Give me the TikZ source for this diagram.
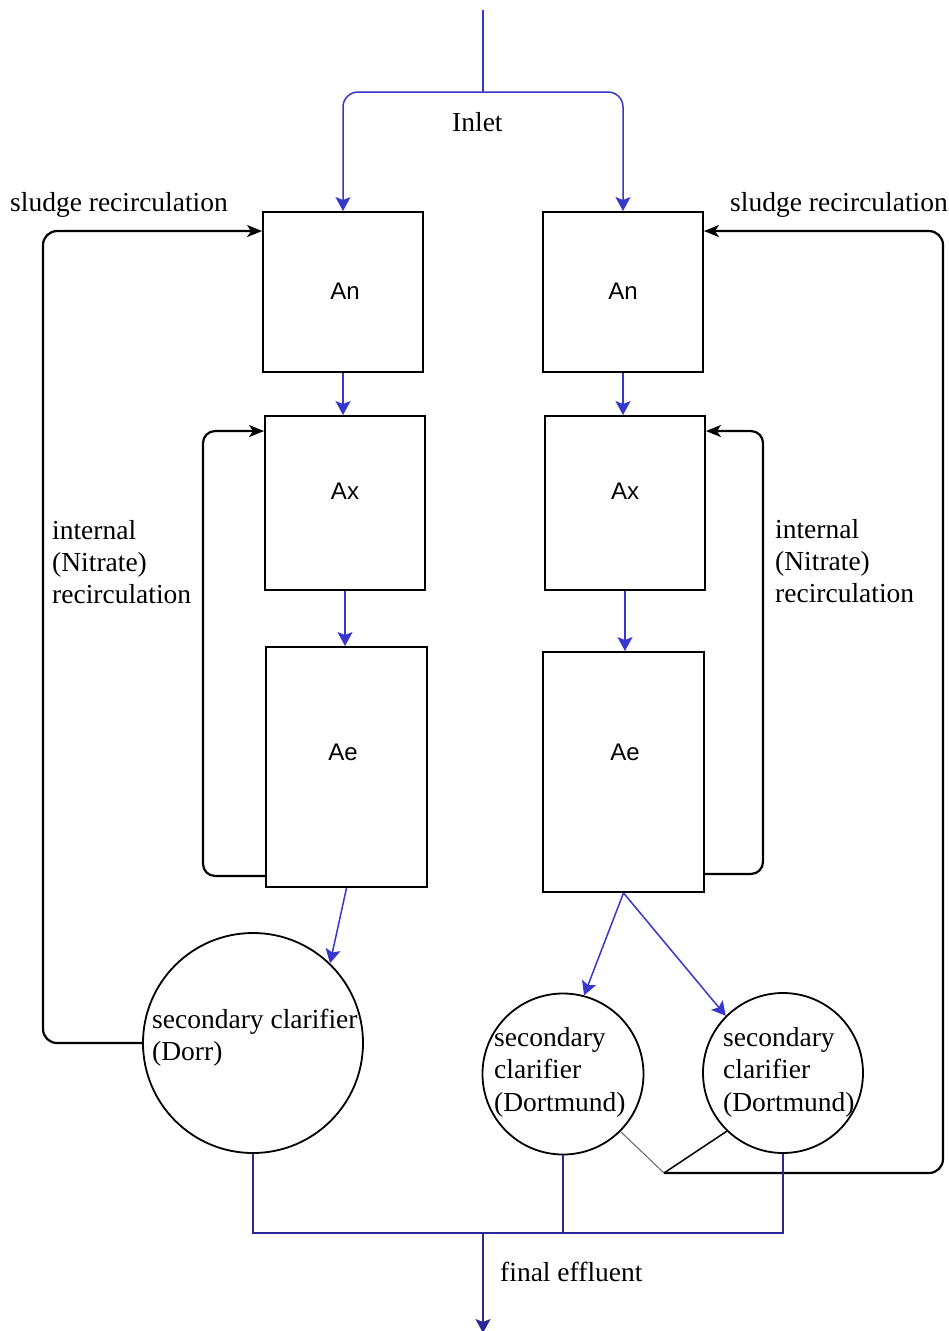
\documentclass[tikz,border=0pt]{standalone}
\usepackage{fontspec}
\setmainfont{Liberation Serif}
\newfontfamily\boxfont{Liberation Sans}
\usetikzlibrary{arrows.meta}
\definecolor{flow}{RGB}{55,55,205}
\definecolor{effl}{RGB}{40,40,150}
\definecolor{thinline}{RGB}{100,100,100}
\begin{document}
\begin{tikzpicture}[x=1pt,y=-1pt,
  tank/.style={draw, line width=1.9pt, inner sep=0pt, minimum width=160pt},
  clar/.style={draw, circle, line width=1.8pt, inner sep=0pt},
  lab/.style={font=\fontsize{27.5}{32}\selectfont, inner sep=0pt, anchor=base west},
  tlab/.style={font=\boxfont\fontsize{24}{28}\selectfont, inner sep=0pt, anchor=base},
  flowar/.style={draw=flow, line width=1.5pt, -{Stealth[length=14pt,width=15pt,inset=3pt]}},
  recar/.style={draw=black, line width=2.2pt, rounded corners=14pt, -{Stealth[length=15pt,width=12pt,inset=4pt]}},
  eff/.style={draw=effl, line width=1.5pt}]
\useasboundingbox (0,0) rectangle (949,1331);
\fill[white] (0,0) rectangle (949,1331);

% tanks
\node[tank, minimum height=160pt] (anL) at (343,292) {};
\node[tank, minimum height=160pt] (anR) at (623,292) {};
\node[tank, minimum height=174pt] (axL) at (345,503) {};
\node[tank, minimum height=174pt] (axR) at (625,503) {};
\node[tank, minimum width=161pt, minimum height=240pt] (aeL) at (346.5,767) {};
\node[tank, minimum width=161pt, minimum height=240pt] (aeR) at (623.5,772) {};

\node[tlab] (tAnL) at (345,299) {An};
\node[tlab] (tAnR) at (623,299) {An};
\node[tlab] (tAxL) at (345,499) {Ax};
\node[tlab] (tAxR) at (625,499) {Ax};
\node[tlab] (tAeL) at (343,760) {Ae};
\node[tlab] (tAeR) at (625,760) {Ae};

% clarifiers
\node[clar, minimum size=220pt] (clL) at (253,1043) {};
\node[clar, minimum size=161pt] (cl1) at (563,1074) {};
\node[clar, minimum size=160pt] (cl2) at (783,1073) {};

\node[lab] (cLa) at (152,1028) {secondary clarifier};
\node[lab] (cLb) at (152,1060) {(Dorr)};
\node[lab] (c1a) at (494,1046) {secondary};
\node[lab] (c1b) at (494,1078) {clarifier};
\node[lab] (c1c) at (494,1111) {(Dortmund)};
\node[lab] (c2a) at (723,1046) {secondary};
\node[lab] (c2b) at (723,1078) {clarifier};
\node[lab] (c2c) at (723,1111) {(Dortmund)};

% labels
\node[lab] (inlet) at (452,131) {Inlet};
\node[lab] (sludL) at (10,211) {sludge recirculation};
\node[lab] (sludR) at (730,211) {sludge recirculation};
\node[lab] (iL1) at (52,539) {internal};
\node[lab] (iL2) at (52,571) {(Nitrate)};
\node[lab] (iL3) at (52,603) {recirculation};
\node[lab] (iR1) at (775,538) {internal};
\node[lab] (iR2) at (775,570) {(Nitrate)};
\node[lab] (iR3) at (775,602) {recirculation};
\node[lab] (final) at (500,1281) {final effluent};

% coordinates
\coordinate (inTop) at (483,10);
\coordinate (inJ) at (483,92);
\coordinate (sLx) at (43,600);
\coordinate (sRx) at (943,600);
\coordinate (iLx) at (203,650);
\coordinate (iRx) at (763,650);
\coordinate (jn) at (664,1173);
\coordinate (ej) at (483,1233);
\coordinate (eo) at (483,1333);

% inlet
\draw[draw=flow, line width=1.5pt] (inTop) -- (inJ);
\draw[flowar, rounded corners=15pt] (inJ) -| (anL.north);
\draw[flowar, rounded corners=15pt] (inJ) -| (anR.north);

% flow between tanks
\draw[flowar] (anL.south) -- (anL.south |- axL.north);
\draw[flowar] (anR.south) -- (anR.south |- axR.north);
\draw[flowar] (axL.south) -- (axL.south |- aeL.north);
\draw[flowar] (axR.south) -- (axR.south |- aeR.north);
\draw[flowar] (aeL.south) -- (clL.46);
\draw[flowar] (aeR.south) -- (cl1.75);
\draw[flowar] (aeR.south) -- (cl2.135);

% internal recirculation
\draw[recar, rounded corners=12pt] ([yshift=12pt]aeL.south west) -| (iLx) |- ([yshift=-16pt]axL.north west);
\draw[recar, rounded corners=12pt] ([yshift=19pt]aeR.south east) -| (iRx) |- ([yshift=-16pt]axR.north east);

% sludge recirculation
\draw[recar] (clL.west) -| (sLx) |- ([yshift=-20pt]anL.north west);
\draw[draw=thinline, line width=1pt] (cl1.-45) -- (jn);
\draw[line width=1.5pt] (cl2.-134) -- (jn);
\draw[recar] (jn) -| (sRx) |- ([yshift=-20pt]anR.north east);

% effluent
\draw[eff] (clL.south) |- (cl2.south |- ej) -- (cl2.south);
\draw[eff] (cl1.south) -- (cl1.south |- ej);
\draw[eff, -{Stealth[length=14pt,width=15pt,inset=3pt]}] (ej) -- (eo);
\end{tikzpicture}
\end{document}
